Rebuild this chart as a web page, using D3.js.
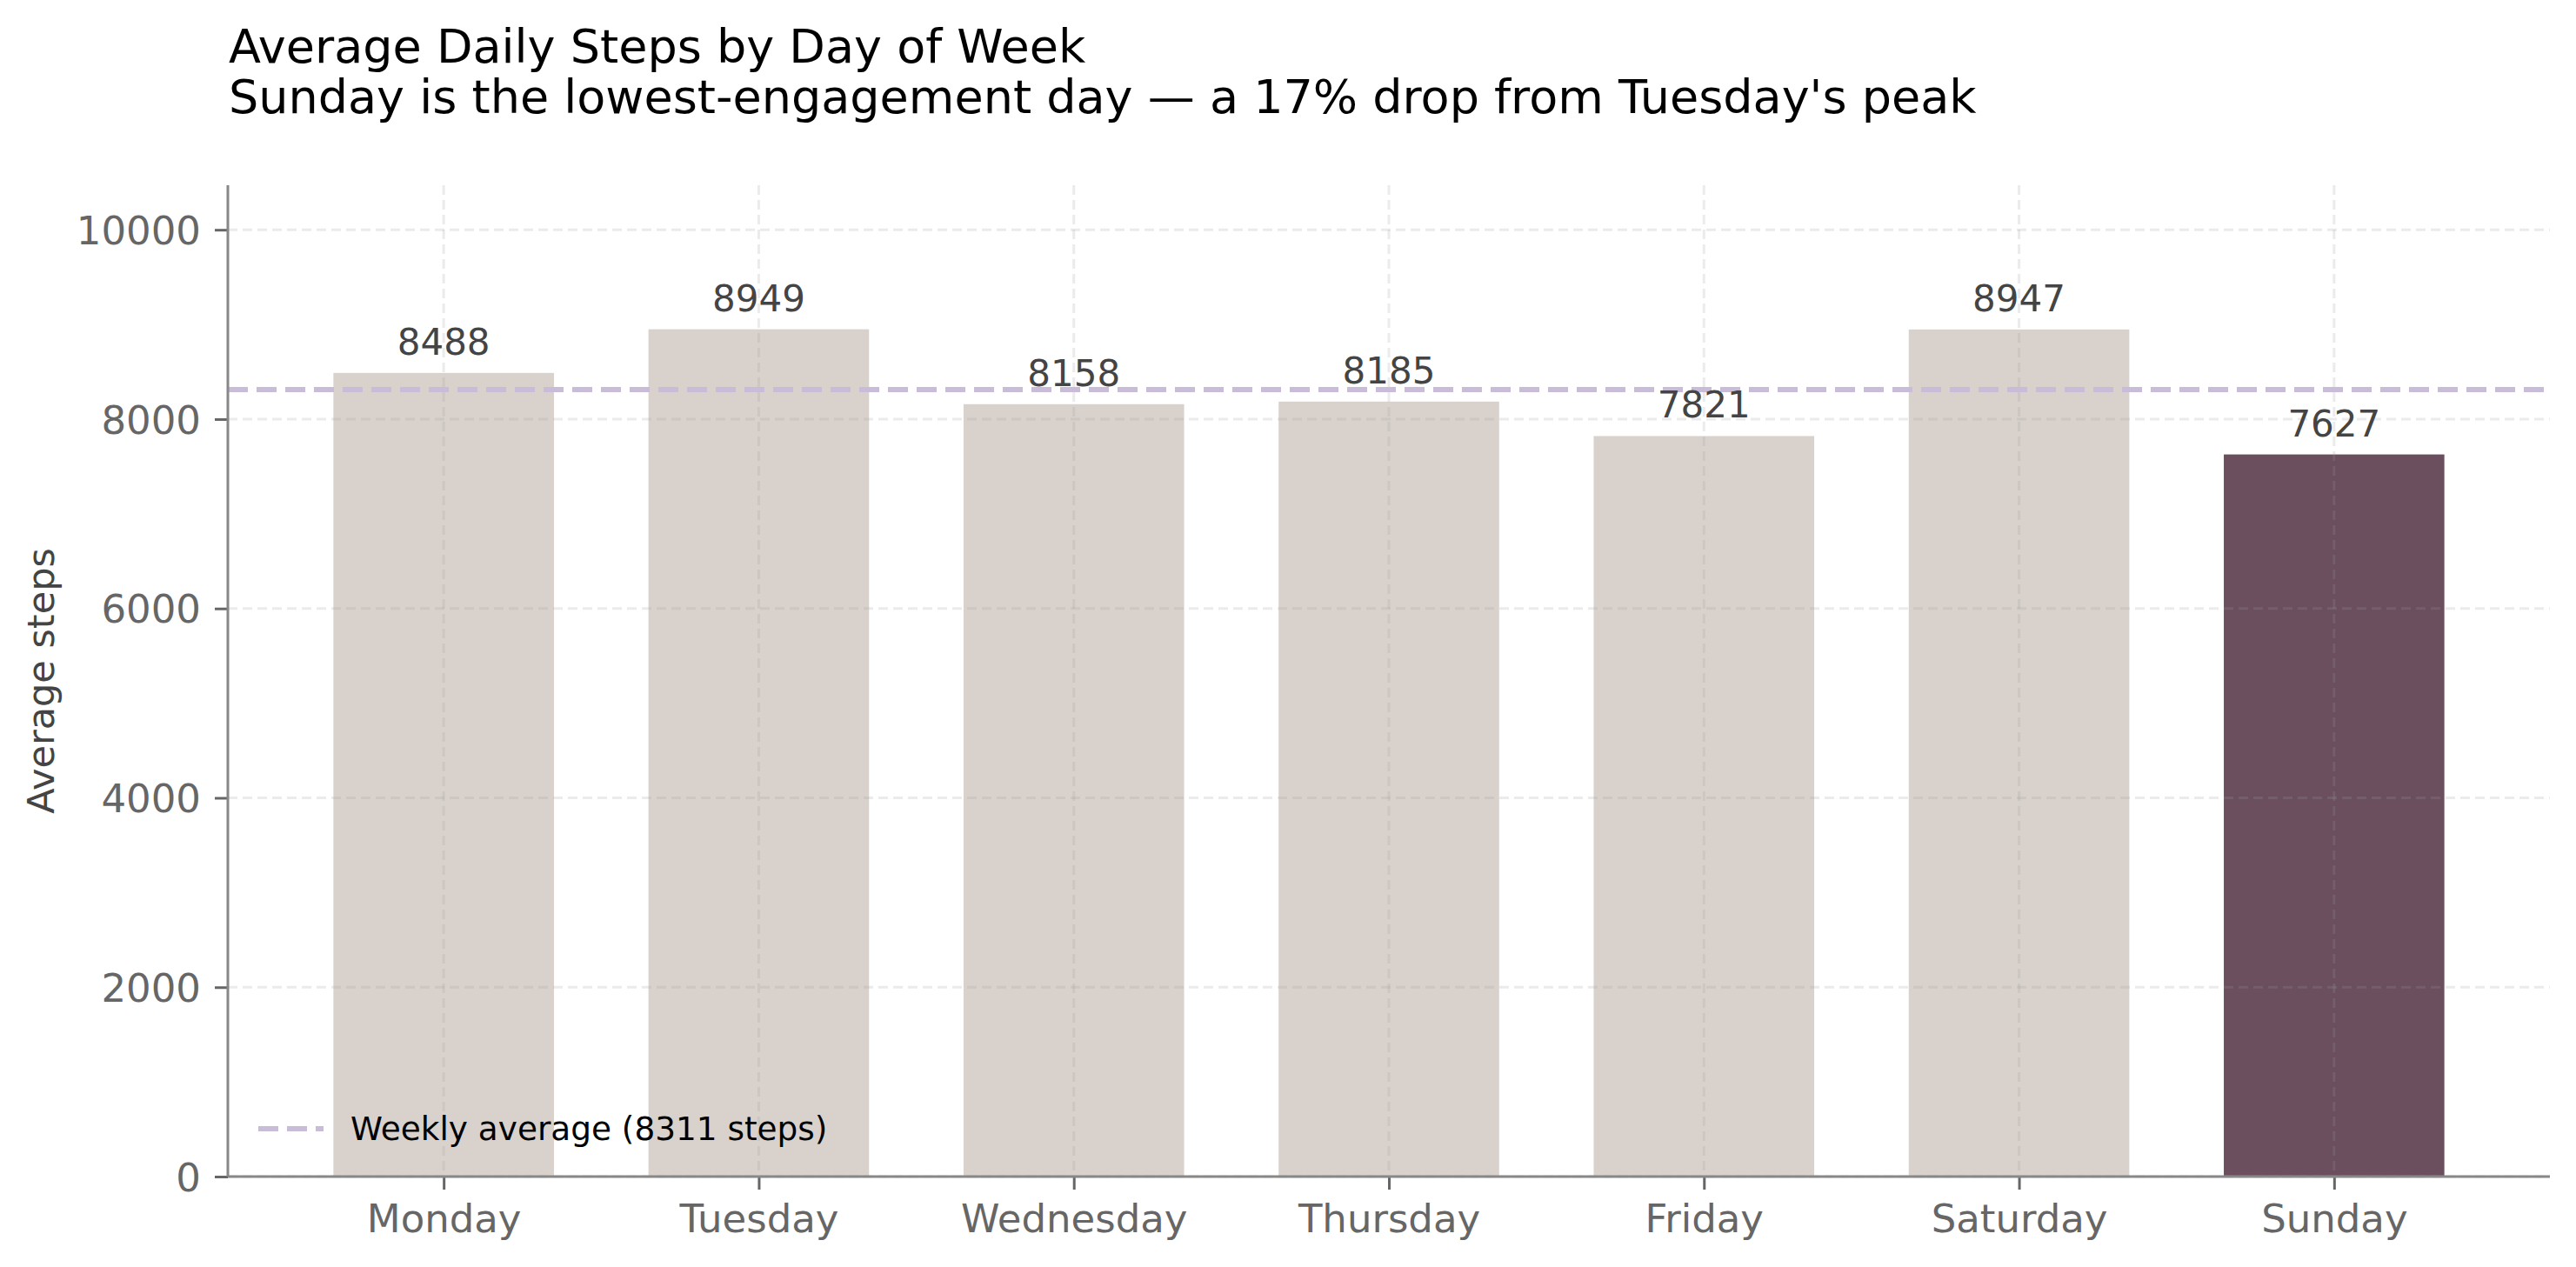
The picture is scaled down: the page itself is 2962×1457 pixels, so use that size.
<!DOCTYPE html>
<html>
<head>
<meta charset="utf-8">
<script src="https://cdn.jsdelivr.net/npm/d3@7"></script>
<style>
  body { margin: 0; background: #fff; }
  svg { display: block; font-family: "DejaVu Sans", sans-serif; }
</style>
</head>
<body>
<div id="chart"></div>
<script>
// data
var days = ["Monday", "Tuesday", "Wednesday", "Thursday", "Friday", "Saturday", "Sunday"];
var steps = [8488, 8949, 8158, 8185, 7821, 8947, 7627];
var weeklyAvg = 8311;
var yTicks = [0, 2000, 4000, 6000, 8000, 10000];
var highlightDay = "Sunday";

var W = 2962, H = 1457;
var margin = {top: 213, right: 30, bottom: 104, left: 262};
var width = W - margin.left - margin.right,
    height = H - margin.top - margin.bottom;

var svg = d3.select("#chart").append("svg")
  .attr("width", W).attr("height", H);

// title block
svg.append("text").attr("x", 263).attr("y", 72)
  .attr("font-size", 54).attr("fill", "#000")
  .text("Average Daily Steps by Day of Week");
svg.append("text").attr("x", 263).attr("y", 130)
  .attr("font-size", 54).attr("fill", "#000")
  .text("Sunday is the lowest-engagement day \u2014 a 17% drop from Tuesday's peak");

var g = svg.append("g")
  .attr("transform", "translate(" + margin.left + "," + margin.top + ")");

// x is a linear scale over bar index so the padding matches matplotlib's margins
var x = d3.scaleLinear().domain([-0.685, days.length - 1 + 0.685]).range([0, width]);
var barW = x(0.7) - x(0);
var y = d3.scaleLinear().domain([0, d3.max(steps) * 1.17]).range([height, 0]);

// bars
g.selectAll("rect.bar")
  .data(days)
  .enter().append("rect")
  .attr("class", "bar")
  .attr("x", function(d, i) { return x(i) - barW / 2; })
  .attr("y", function(d, i) { return y(steps[i]); })
  .attr("width", barW)
  .attr("height", function(d, i) { return height - y(steps[i]); })
  .attr("fill", function(d) { return d == highlightDay ? "#6b4f5e" : "#d9d2cc"; });

// grid on top of bars, faint
g.selectAll("line.hgrid")
  .data(yTicks)
  .enter().append("line")
  .attr("x1", 0).attr("x2", width)
  .attr("y1", function(d) { return y(d); })
  .attr("y2", function(d) { return y(d); })
  .attr("stroke", "#999").attr("stroke-opacity", 0.2)
  .attr("stroke-width", 3).attr("stroke-dasharray", "11,6");
g.selectAll("line.vgrid")
  .data(days)
  .enter().append("line")
  .attr("x1", function(d, i) { return x(i); })
  .attr("x2", function(d, i) { return x(i); })
  .attr("y1", 0).attr("y2", height)
  .attr("stroke", "#999").attr("stroke-opacity", 0.2)
  .attr("stroke-width", 3).attr("stroke-dasharray", "11,6");

// weekly average
g.append("line")
  .attr("x1", 0).attr("x2", width)
  .attr("y1", y(weeklyAvg)).attr("y2", y(weeklyAvg))
  .attr("stroke", "#c9bcd8").attr("stroke-width", 6)
  .attr("stroke-dasharray", "23,10");

// value labels
g.selectAll("text.val")
  .data(days)
  .enter().append("text")
  .attr("x", function(d, i) { return x(i); })
  .attr("y", function(d, i) { return y(steps[i]) - 21; })
  .attr("text-anchor", "middle")
  .attr("font-size", 42).attr("fill", "#444")
  .text(function(d, i) { return steps[i]; });

// axes
var yAxis = g.append("g")
  .call(d3.axisLeft(y).tickValues(yTicks).tickSize(15).tickPadding(16).tickFormat(d3.format("d")));
yAxis.select(".domain").remove();
yAxis.selectAll(".tick line").attr("stroke", "#666").attr("stroke-width", 3);
yAxis.selectAll(".tick text").attr("font-size", 45).attr("fill", "#666")
  .attr("font-family", "DejaVu Sans").attr("dy", "0.36em");

var xAxis = g.append("g")
  .attr("transform", "translate(0," + height + ")")
  .call(d3.axisBottom(x).tickValues(d3.range(days.length)).tickSize(15).tickPadding(16)
    .tickFormat(function(i) { return days[i]; }));
xAxis.select(".domain").remove();
xAxis.selectAll(".tick line").attr("stroke", "#666").attr("stroke-width", 3);
xAxis.selectAll(".tick text").attr("font-size", 45).attr("fill", "#666")
  .attr("font-family", "DejaVu Sans").attr("dy", "0.74em");

// spines
g.append("line").attr("x1", 0).attr("x2", 0).attr("y1", 0).attr("y2", height)
  .attr("stroke", "#888").attr("stroke-width", 3);
g.append("line").attr("x1", 0).attr("x2", width).attr("y1", height).attr("y2", height)
  .attr("stroke", "#888").attr("stroke-width", 3);

// y label
svg.append("text")
  .attr("transform", "translate(62," + (margin.top + height / 2) + ")rotate(-90)")
  .attr("text-anchor", "middle")
  .attr("font-size", 43).attr("fill", "#444")
  .text("Average steps");

// legend
var leg = g.append("g").attr("transform", "translate(35," + (height - 55) + ")");
leg.append("line").attr("x1", 0).attr("x2", 75).attr("y1", 0).attr("y2", 0)
  .attr("stroke", "#c9bcd8").attr("stroke-width", 6).attr("stroke-dasharray", "23,10");
leg.append("text").attr("x", 106).attr("y", 13)
  .attr("font-size", 37.4).attr("fill", "#000")
  .text("Weekly average (" + weeklyAvg + " steps)");
</script>
</body>
</html>
